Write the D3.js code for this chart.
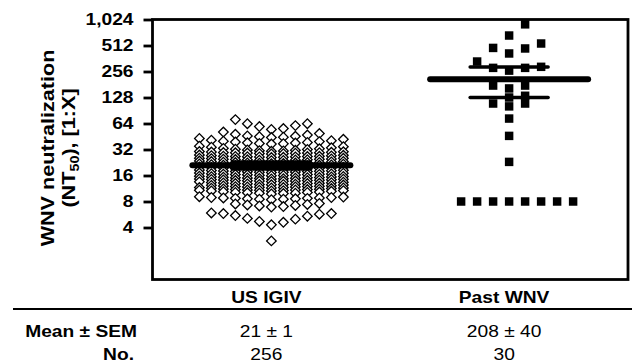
<!DOCTYPE html>
<html><head><meta charset="utf-8">
<script src="https://cdn.jsdelivr.net/npm/d3@7"></script>
<style>
html,body{margin:0;padding:0;background:#fff;}
svg{display:block;font-family:"Liberation Sans",Arial,sans-serif;}
</style></head>
<body><svg id="c" width="632" height="363"></svg>
<script>
// ---------- data ----------
const categories = ["US IGIV", "Past WNV"];
const yTicks = [4, 8, 16, 32, 64, 128, 256, 512, 1024];
// US IGIV titres, grouped in the rows seen in the dot plot
const igivRows = [
  [54.6, 56, 59, 60.5, 63.6, 63.6, 71],
  [44, 44.5, 45, 45.5, 46, 47, 48, 49, 51],
  [37, 37.3, 37.6, 38, 38.3, 38.6, 39, 39.5, 40, 40.5, 41, 42, 43],
  [30.5, 30.8, 31, 31.3, 31.6, 32, 32.3, 32.6, 33, 33.5, 34, 34.5, 35],
  [28.4, 28.6, 28.8, 29.0, 29.1, 29.2, 29.3, 29.4, 29.5, 29.7, 29.9, 30.1, 30.3],
  [25.8, 26.0, 26.2, 26.3, 26.4, 26.5, 26.6, 26.7, 26.8, 27.0, 27.2, 27.4, 27.6],
  [23.8, 23.9, 24.1, 24.2, 24.3, 24.4, 24.5, 24.6, 24.7, 24.9, 25.1, 25.3, 25.4],
  [21.9, 22.0, 22.2, 22.3, 22.4, 22.5, 22.6, 22.7, 22.8, 23.0, 23.2, 23.3, 23.5],
  [20.3, 20.4, 20.5, 20.6, 20.7, 20.8, 20.9, 21.0, 21.1, 21.2, 21.4, 21.6, 21.8],
  [18.7, 18.8, 18.9, 19.0, 19.1, 19.2, 19.3, 19.4, 19.5, 19.6, 19.8, 20.0, 20.1],
  [17.3, 17.4, 17.5, 17.6, 17.7, 17.8, 17.8, 17.9, 18.0, 18.1, 18.3, 18.4, 18.5],
  [15.9, 16.0, 16.1, 16.2, 16.3, 16.4, 16.4, 16.5, 16.6, 16.7, 16.8, 17.0, 17.1],
  [14.6, 14.7, 14.8, 14.9, 15.0, 15.1, 15.1, 15.2, 15.3, 15.4, 15.5, 15.6, 15.7],
  [13.6, 13.7, 13.8, 13.8, 13.9, 14.0, 14.0, 14.1, 14.2, 14.3, 14.4, 14.5, 14.6],
  [12.5, 12.6, 12.6, 12.7, 12.8, 12.9, 12.9, 13.0, 13.1, 13.2, 13.3, 13.4, 13.5],
  [11.5, 11.6, 11.7, 11.8, 11.8, 11.9, 11.9, 12.0, 12.1, 12.2, 12.3, 12.4],
  [10.6, 10.7, 10.8, 10.9, 10.9, 11.0, 11.0, 11.1, 11.2, 11.3, 11.4, 11.5, 11.6],
  [9.8, 9.9, 10.0, 10.0, 10.1, 10.2, 10.2, 10.3, 10.4, 10.5, 10.6, 10.7, 10.8],
  [8.4, 8.5, 8.5, 8.6, 8.6, 8.7, 8.7, 8.8, 8.8, 8.9, 8.9, 9.0, 9.1],
  [6.9, 7.0, 7.1, 7.2, 7.3, 7.4, 7.5, 7.6],
  [4.3, 4.6, 4.7, 5.0, 5.1, 5.4, 5.5, 5.7, 5.8, 5.8, 5.9],
  [2.8]
];
// Past WNV titres
const pastRows = [
  [668, 900],
  [414, 473, 480, 540],
  [262, 282, 282, 290, 334],
  [163, 176, 176],
  [128, 134],
  [101, 109, 109],
  [73], [46], [23],
  [8, 8, 8, 8, 8, 8, 8, 8]
];
const means = [21, 208];
const errLow = [19, 128];
const errHigh = [23, 288];
const meanSem = ["21 \u00b1 1", "208 \u00b1 40"];
const counts = ["256", "30"];

// ---------- layout ----------
const svg = d3.select("#c");
const L = 152.5, R = 628, T = 19.5, B = 279.5;
const SX = 1.2; // horizontal stretch of the lettering in the reference
const y = d3.scaleLog().base(2).domain([1, 1024]).range([B, T]);
const x = d3.scalePoint().domain(categories).range([L, R]).padding(0.5);

function layoutRows(rows, cx, spacing) {
  const pts = [];
  rows.forEach(r => {
    const s = r.slice().sort((a, b) => a - b);
    s.forEach((v, i) => {
      const k = i === 0 ? 0 : (i % 2 === 1 ? (i + 1) / 2 : -i / 2);
      pts.push({ v, px: cx + k * spacing });
    });
  });
  return pts;
}
const igivPts = layoutRows(igivRows, x(categories[0]), 12);
const pastPts = layoutRows(pastRows, x(categories[1]), 16);

const diamond = d3.symbol().type(d3.symbolSquare).size(46)();
svg.append("g").selectAll("path").data(igivPts).join("path")
  .attr("d", diamond)
  .attr("transform", d => `translate(${d.px},${y(d.v)}) rotate(45)`)
  .attr("fill", "#fff").attr("stroke", "#000").attr("stroke-width", 1.3);

const square = d3.symbol().type(d3.symbolSquare).size(72)();
svg.append("g").selectAll("path").data(pastPts).join("path")
  .attr("d", square)
  .attr("transform", d => `translate(${d.px},${y(d.v)})`)
  .attr("fill", "#000");

// mean and error lines
const gl = svg.append("g").attr("stroke", "#000").attr("stroke-linecap", "round");
categories.forEach((c, i) => {
  const cx = x(c);
  gl.append("line").attr("x1", cx - 79).attr("x2", cx + 79)
    .attr("y1", y(means[i])).attr("y2", y(means[i])).attr("stroke-width", 6);
  [errLow[i], errHigh[i]].forEach(v => {
    gl.append("line").attr("x1", cx - 39).attr("x2", cx + 39)
      .attr("y1", y(v)).attr("y2", y(v)).attr("stroke-width", 3.5);
  });
});

// frame
svg.append("rect").attr("x", L).attr("y", T).attr("width", R - L).attr("height", B - T)
  .attr("fill", "none").attr("stroke", "#000").attr("stroke-width", 2.8);

// y axis
const ax = svg.append("g").attr("transform", `translate(${L},0)`)
  .call(d3.axisLeft(y).tickValues(yTicks).tickFormat(d3.format(",")).tickSize(9).tickPadding(0));
ax.select(".domain").remove();
ax.selectAll(".tick line").attr("stroke", "#000").attr("stroke-width", 2.8);
ax.selectAll(".tick text")
  .attr("x", null)
  .attr("transform", `translate(-19,0) scale(${SX},1)`)
  .attr("font-size", 16).attr("font-weight", "bold")
  .attr("font-family", "Liberation Sans, Arial, sans-serif").attr("fill", "#000");

// y title
const yt = svg.append("text").attr("transform", `translate(54,148) rotate(-90) scale(${SX},1)`)
  .attr("text-anchor", "middle").attr("font-size", 18).attr("font-weight", "bold");
yt.text("WNV neutralization");
const yt2 = svg.append("text").attr("transform", `translate(75,148) rotate(-90) scale(${SX},1)`)
  .attr("text-anchor", "middle").attr("font-size", 18).attr("font-weight", "bold");
yt2.append("tspan").text("(NT");
yt2.append("tspan").attr("font-size", 12).attr("dy", 4).text("50");
yt2.append("tspan").attr("dy", -4).text("), [1:X]");

// table
function stretchedText(px, py, str, anchor, bold) {
  svg.append("text")
    .attr("transform", `translate(${px},${py}) scale(${SX},1)`)
    .attr("text-anchor", anchor).attr("font-size", 16)
    .attr("font-weight", bold ? "bold" : "normal").text(str);
}
const tx = c => x(c) - 5;
svg.append("line").attr("x1", 13).attr("x2", 632).attr("y1", 309).attr("y2", 309)
  .attr("stroke", "#000").attr("stroke-width", 2.2);
categories.forEach((c, i) => {
  stretchedText(tx(c), 303, c, "middle", true);
  stretchedText(tx(c), 337, meanSem[i], "middle", false);
  stretchedText(tx(c), 360, counts[i], "middle", false);
});
stretchedText(137, 337, "Mean \u00b1 SEM", "end", true);
stretchedText(134, 360, "No.", "end", true);
</script></body></html>
